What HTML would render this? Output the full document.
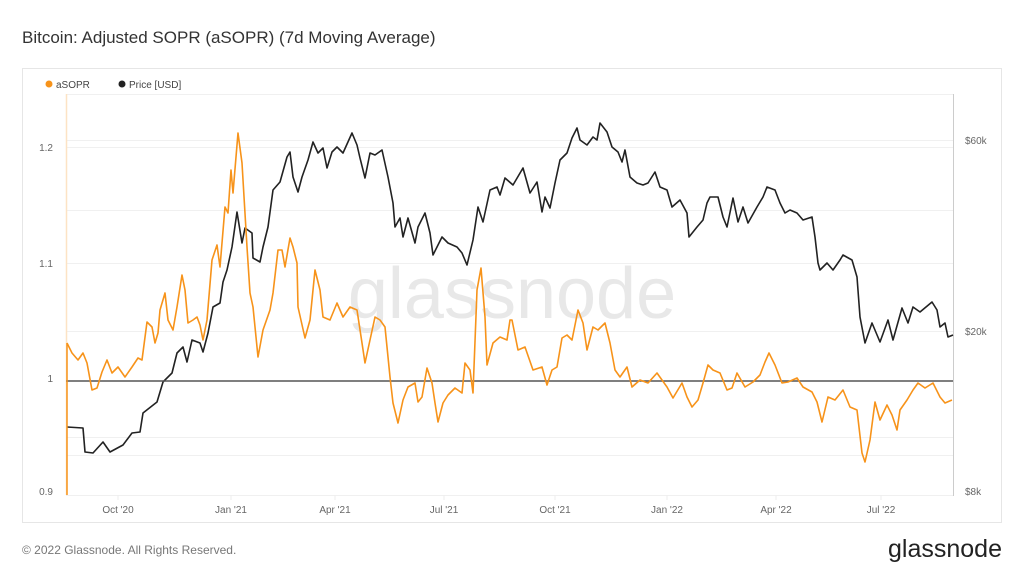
<!DOCTYPE html>
<html><head><meta charset="utf-8"><style>
html,body{margin:0;padding:0;background:#fff;width:1024px;height:576px;overflow:hidden;font-family:"Liberation Sans",sans-serif}
</style></head><body>
<svg width="1024" height="576" xmlns="http://www.w3.org/2000/svg" style="position:absolute;left:0;top:0">
<text x="22" y="43" font-size="17" fill="#333" font-family="Liberation Sans">Bitcoin: Adjusted SOPR (aSOPR) (7d Moving Average)</text>
<rect x="22.5" y="68.5" width="979" height="454" fill="#fff" stroke="#e6e6e6"/>
<circle cx="49" cy="84" r="3.5" fill="#f7931a"/>
<text x="56" y="88" font-size="10" fill="#444">aSOPR</text>
<circle cx="122" cy="84" r="3.5" fill="#222"/>
<text x="129" y="88" font-size="10" fill="#444">Price [USD]</text>
<g stroke="#f0f0f0" stroke-width="1">
<line x1="66" y1="147.5" x2="953" y2="147.5"/><line x1="66" y1="263.5" x2="953" y2="263.5"/>
<line x1="66" y1="140.5" x2="953" y2="140.5"/><line x1="66" y1="331.5" x2="953" y2="331.5"/>
<line x1="66" y1="210.5" x2="953" y2="210.5"/><line x1="66" y1="437.5" x2="953" y2="437.5"/>
<line x1="66" y1="455.5" x2="953" y2="455.5"/><line x1="66" y1="94.5" x2="953" y2="94.5"/>
<line x1="66" y1="495.5" x2="953" y2="495.5"/>
</g>
<g stroke="#eee"><line x1="118" y1="495" x2="118" y2="500"/><line x1="231" y1="495" x2="231" y2="500"/><line x1="335" y1="495" x2="335" y2="500"/><line x1="444" y1="495" x2="444" y2="500"/><line x1="555" y1="495" x2="555" y2="500"/><line x1="667" y1="495" x2="667" y2="500"/><line x1="776" y1="495" x2="776" y2="500"/><line x1="881" y1="495" x2="881" y2="500"/></g>
<line x1="953.5" y1="94" x2="953.5" y2="496" stroke="#ccc"/>
<text x="512" y="318" font-size="72" fill="#e8e8e8" text-anchor="middle" font-family="Liberation Sans">glassnode</text>
<line x1="66.5" y1="94" x2="66.5" y2="495" stroke="#fde3c4" stroke-width="1.5"/>
<g font-size="10" fill="#666">
<text x="53" y="151" text-anchor="end">1.2</text><text x="53" y="267" text-anchor="end">1.1</text>
<text x="53" y="382" text-anchor="end">1</text><text x="53" y="495" text-anchor="end">0.9</text>
<text x="965" y="144">$60k</text><text x="965" y="335">$20k</text><text x="965" y="495">$8k</text>
<g text-anchor="middle"><text x="118" y="513">Oct '20</text><text x="231" y="513">Jan '21</text><text x="335" y="513">Apr '21</text><text x="444" y="513">Jul '21</text><text x="555" y="513">Oct '21</text><text x="667" y="513">Jan '22</text><text x="776" y="513">Apr '22</text><text x="881" y="513">Jul '22</text></g>
</g>
<polyline fill="none" stroke="#222" stroke-width="1.6" stroke-linejoin="round" points="67,427 83,428 85,452 93,453 103,442 110,452 123,445 132,433 140,432 143,413 157,402 163,382 172,373 177,353 183,347 187,362 192,340 200,343 203,352 208,333 213,307 220,303 223,282 227,270 232,247 237,212 242,243 245,228 252,233 253,258 260,262 263,247 268,227 273,190 280,182 287,157 290,152 293,177 298,192 302,177 308,160 313,142 318,153 323,148 327,168 332,152 337,147 343,153 352,133 357,145 360,158 365,178 370,153 375,155 382,150 388,177 393,203 395,227 400,218 403,237 408,218 415,243 418,227 425,213 430,233 433,255 442,237 448,243 457,247 462,253 467,265 473,240 478,207 483,222 490,190 497,187 500,195 505,178 513,185 523,168 530,193 537,182 542,212 545,197 550,208 555,183 560,160 567,153 572,138 577,128 580,140 587,145 593,137 597,140 600,123 607,132 612,147 618,152 622,162 625,150 630,177 637,183 643,185 648,183 655,172 660,187 667,190 672,207 680,200 687,213 689,237 697,227 703,220 707,203 710,197 718,197 723,217 727,227 733,198 738,222 743,207 748,223 757,207 763,197 767,187 775,190 780,203 785,213 790,210 797,213 803,220 812,217 815,237 818,263 820,270 827,263 833,270 840,260 843,255 852,260 857,277 860,317 865,343 872,323 880,342 888,320 893,340 902,308 908,323 913,307 920,312 932,302 937,310 940,327 945,323 948,337 953,335"/>
<line x1="66" y1="381" x2="953" y2="381" stroke="#555" stroke-width="1.5"/>
<line x1="67" y1="343" x2="67" y2="495" stroke="#f7931a" stroke-width="1.5"/>
<polyline fill="none" stroke="#f7931a" stroke-width="1.6" stroke-linejoin="round" points="67,343 72,353 78,360 83,353 87,363 92,390 97,388 102,372 107,360 112,373 118,367 125,377 132,367 138,358 142,360 147,322 152,327 155,343 158,333 160,310 165,293 168,320 173,330 177,307 182,275 185,290 188,323 193,320 197,317 200,325 203,340 207,320 212,260 217,245 220,267 225,207 228,213 231,170 233,193 238,133 242,163 247,247 250,293 253,307 258,357 263,330 270,310 273,293 278,250 282,250 285,267 290,238 293,247 297,263 298,307 305,338 310,320 315,270 320,290 323,317 330,320 337,303 343,317 350,307 357,310 362,343 365,363 370,340 375,317 380,320 385,327 390,377 393,403 398,423 403,400 408,387 415,383 418,402 422,397 427,368 432,383 435,403 438,422 443,403 448,395 455,388 462,393 465,363 470,370 473,393 477,290 481,268 485,317 487,365 493,343 500,337 507,340 510,320 512,320 518,350 525,347 533,370 542,367 547,385 552,370 557,367 562,338 567,335 572,340 578,310 583,323 587,350 593,327 598,330 605,323 610,343 615,370 620,377 627,367 632,387 640,380 648,383 657,373 667,387 673,398 682,383 687,397 692,407 698,400 703,383 708,365 713,370 720,373 727,390 732,388 737,373 745,387 753,382 760,375 765,362 769,353 775,365 782,383 788,382 797,378 803,387 812,392 817,402 822,422 828,397 835,400 843,390 850,407 857,410 862,453 865,462 870,440 875,402 880,420 887,405 892,415 897,430 900,410 907,400 913,390 918,383 925,388 933,383 940,397 945,403 952,400"/>
<text x="22" y="554" font-size="12" fill="#777">© 2022 Glassnode. All Rights Reserved.</text>
<text x="1002" y="557" font-size="25" fill="#222" text-anchor="end" font-family="Liberation Sans">glassnode</text>
</svg>
</body></html>
